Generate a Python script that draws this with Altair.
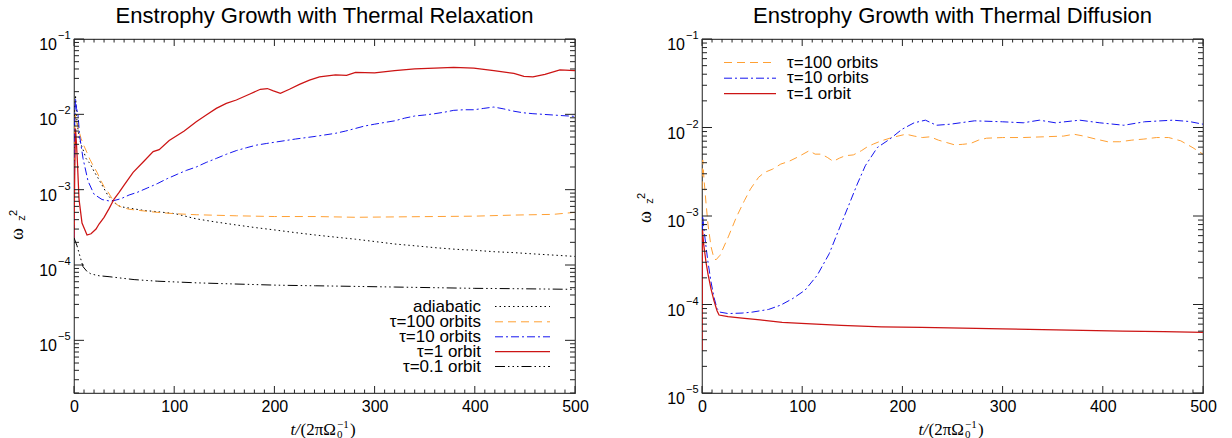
import altair as alt
import pandas as pd

FONT = "Liberation Sans"
SERIF = "Liberation Serif"

# ---------------- data: left panel (thermal relaxation) ----------------
adia_t = [0, 0.7, 1.5, 3, 5, 7, 9, 12, 15, 17, 20, 23.7, 28, 33.6, 38, 43, 48, 55, 62, 70, 83, 101,
          122, 140, 162, 180, 202, 220, 241, 260, 281, 300, 320, 340, 360, 380, 399, 420, 439, 460, 480, 500]
adia_v = [2.3e-4, 1.2e-2, 1.8e-2, 8.0e-3, 5.0e-3, 4.0e-3, 3.4e-3, 2.6e-3, 2.3e-3, 2.1e-3, 1.75e-3, 1.45e-3,
          1.15e-3, 8.5e-4, 7.3e-4, 6.2e-4, 5.9e-4, 5.7e-4, 5.5e-4, 5.3e-4, 5.1e-4, 4.8e-4,
          4.1e-4, 3.75e-4, 3.4e-4, 3.15e-4, 2.9e-4, 2.7e-4, 2.5e-4, 2.35e-4, 2.2e-4, 2.05e-4, 1.9e-4,
          1.8e-4, 1.7e-4, 1.62e-4, 1.57e-4, 1.5e-4, 1.46e-4, 1.4e-4, 1.35e-4, 1.3e-4]

t100_t = [0, 0.7, 1.5, 3, 5, 7, 10, 13, 16, 19, 23, 27, 30, 34, 38, 43, 48, 55, 65, 83, 100, 122, 162,
          200, 241, 281, 320, 360, 399, 439, 478, 500]
t100_v = [2.3e-4, 6e-3, 1.0e-2, 7.5e-3, 6.0e-3, 4.8e-3, 3.8e-3, 3.1e-3, 2.5e-3, 2.1e-3, 1.7e-3, 1.3e-3,
          1.1e-3, 9.3e-4, 7.6e-4, 6.3e-4, 5.8e-4, 5.5e-4, 5.3e-4, 5.0e-4, 4.8e-4, 4.65e-4, 4.5e-4,
          4.4e-4, 4.4e-4, 4.3e-4, 4.35e-4, 4.4e-4, 4.45e-4, 4.6e-4, 4.7e-4, 5.0e-4]

t10_t = [0, 0.7, 1.5, 2.5, 4, 5.6, 9, 14, 20, 28, 37, 47, 55, 63, 73, 83, 93, 103, 112, 122, 132, 142,
         152, 162, 172, 182, 192, 202, 221, 241, 261, 271, 281, 290, 300, 310, 320, 330, 340, 350, 360,
         370, 379, 389, 399, 409, 419, 429, 439, 448, 458, 468, 478, 488, 500]
t10_v = [2.3e-4, 8e-3, 1.6e-2, 1.2e-2, 1.0e-2, 5.2e-3, 2.6e-3, 1.3e-3, 8.7e-4, 7.4e-4, 7.0e-4, 7.6e-4,
         8.5e-4, 9.2e-4, 1.05e-3, 1.2e-3, 1.4e-3, 1.6e-3, 1.8e-3, 2.0e-3, 2.3e-3, 2.6e-3, 2.95e-3,
         3.3e-3, 3.6e-3, 3.9e-3, 4.1e-3, 4.3e-3, 4.7e-3, 5.1e-3, 5.6e-3, 6.0e-3, 6.5e-3, 7.0e-3, 7.4e-3,
         7.8e-3, 8.2e-3, 8.9e-3, 9.5e-3, 9.8e-3, 1.02e-2, 1.07e-2, 1.13e-2, 1.15e-2, 1.15e-2, 1.2e-2,
         1.25e-2, 1.18e-2, 1.1e-2, 1.05e-2, 1.02e-2, 1.0e-2, 9.8e-3, 9.6e-3, 9.4e-3]

t1_t = [0, 0.7, 1.5, 2.5, 3.3, 5, 8, 13, 17, 22, 25, 30, 35, 40, 45, 50, 59, 70, 79, 85, 95, 110, 122,
        132, 142, 152, 162, 175, 186, 193, 199, 206, 215, 225, 235, 245, 261, 272, 281, 300, 320, 340,
        360, 379, 399, 419, 439, 449, 458, 470, 485, 500]
t1_v = [2.3e-4, 1.5e-3, 6.5e-3, 4.0e-3, 2.5e-3, 7.5e-4, 3.6e-4, 2.5e-4, 2.6e-4, 3.0e-4, 3.5e-4, 4.3e-4,
        5.6e-4, 7.5e-4, 9.2e-4, 1.15e-3, 1.7e-3, 2.4e-3, 3.2e-3, 3.4e-3, 4.5e-3, 6.0e-3, 8.0e-3,
        9.8e-3, 1.2e-2, 1.4e-2, 1.55e-2, 1.85e-2, 2.15e-2, 2.2e-2, 2.05e-2, 1.9e-2, 2.15e-2, 2.5e-2,
        2.85e-2, 3.15e-2, 3.35e-2, 3.3e-2, 3.6e-2, 3.55e-2, 3.8e-2, 4.0e-2, 4.1e-2, 4.2e-2, 4.1e-2,
        3.8e-2, 3.5e-2, 3.2e-2, 3.15e-2, 3.4e-2, 3.9e-2, 3.8e-2]

t01_t = [0, 3, 6, 9, 13, 17, 25, 35, 43, 60, 83, 122, 160, 202, 241, 281, 320, 360, 400, 439, 470, 500]
t01_v = [2.3e-4, 1.8e-4, 1.3e-4, 9.5e-5, 8.2e-5, 7.6e-5, 7.2e-5, 7.0e-5, 6.8e-5, 6.4e-5, 6.1e-5, 5.8e-5,
         5.6e-5, 5.4e-5, 5.3e-5, 5.2e-5, 5.1e-5, 5.0e-5, 4.9e-5, 4.85e-5, 4.8e-5, 4.75e-5]

# ---------------- data: right panel (thermal diffusion) ----------------
d100_t = [0, 0.7, 2, 4, 6, 9, 12, 14, 18, 26.2, 34.3, 42.3, 48.4, 56.5, 62.5, 70.6, 78.6, 86.7, 94.8,
          100.8, 106.9, 112.9, 119, 125, 131, 137, 143, 151, 159, 165, 171, 179, 187.5, 195.6, 203.6,
          211.7, 219.8, 227.8, 235.9, 244, 252, 260, 268, 276, 284, 300, 320.6, 340.7, 361, 371, 381,
          393, 405, 417, 429, 441, 453.6, 465.7, 477.8, 490, 500]
d100_v = [2.0e-3, 4.3e-3, 2.6e-3, 1.4e-3, 8e-4, 4.5e-4, 3.3e-4, 3.2e-4, 3.6e-4, 5.8e-4, 9.7e-4, 1.49e-3,
          2.02e-3, 2.74e-3, 3.11e-3, 3.39e-3, 3.86e-3, 4.14e-3, 4.59e-3, 5.0e-3, 5.46e-3, 5.0e-3,
          5.0e-3, 4.6e-3, 4.14e-3, 4.5e-3, 4.8e-3, 4.9e-3, 5.46e-3, 6.05e-3, 6.5e-3, 7.07e-3, 7.57e-3,
          8.0e-3, 8.4e-3, 8.0e-3, 7.7e-3, 7.85e-3, 7.2e-3, 6.77e-3, 6.37e-3, 6.45e-3, 6.6e-3, 7.2e-3,
          7.57e-3, 7.7e-3, 7.7e-3, 7.85e-3, 8.0e-3, 8.4e-3, 8.0e-3, 7.4e-3, 6.9e-3, 6.9e-3, 7.2e-3,
          7.4e-3, 7.7e-3, 7.7e-3, 7.07e-3, 5.9e-3, 5.0e-3]

d10_t = [0, 0.7, 2, 4, 6, 9, 12, 15, 18, 26, 40, 50, 66.5, 78.6, 90.7, 102.8, 115, 127, 139, 147, 155,
         163, 175, 187.5, 199.6, 211.7, 223, 234, 248, 272, 300, 320.6, 336.7, 352.8, 377, 397, 421,
         441.5, 469.8, 486, 500]
d10_v = [2.0e-4, 1.0e-3, 7e-4, 4.5e-4, 3.0e-4, 1.8e-4, 1.2e-4, 9e-5, 8.2e-5, 7.9e-5, 8.0e-5, 8.2e-5,
         8.8e-5, 9.85e-5, 1.17e-4, 1.45e-4, 2.14e-4, 3.76e-4, 8.2e-4, 1.37e-3, 2.3e-3, 3.7e-3, 5.94e-3,
         7.4e-3, 9.55e-3, 1.13e-2, 1.21e-2, 1.06e-2, 1.09e-2, 1.19e-2, 1.16e-2, 1.13e-2, 1.21e-2,
         1.13e-2, 1.21e-2, 1.13e-2, 1.06e-2, 1.16e-2, 1.21e-2, 1.17e-2, 1.09e-2]

d1_t = [0, 0.5, 1.5, 4, 6, 9, 12, 15, 17, 26, 40, 58, 80, 99, 139, 179, 219, 260, 300, 340, 380, 420,
        461, 500]
d1_v = [3.0e-5, 7e-4, 5e-4, 3e-4, 2.2e-4, 1.5e-4, 1.1e-4, 8.5e-5, 7.6e-5, 7.3e-5, 7.0e-5, 6.7e-5,
        6.3e-5, 6.1e-5, 5.8e-5, 5.6e-5, 5.5e-5, 5.4e-5, 5.3e-5, 5.2e-5, 5.1e-5, 5.0e-5, 4.95e-5,
        4.85e-5]

# ---------------- axis ticks / labels ----------------
x_major = [0, 100, 200, 300, 400, 500]
x_minor = [t for t in range(0, 501, 10) if t % 100]
left_y_major = [1e-5, 1e-4, 1e-3, 1e-2, 1e-1]
left_y_exp = ["\u22125", "\u22124", "\u22123", "\u22122", "\u22121"]
right_y_major = [1e-5, 1e-4, 1e-3, 1e-2, 1e-1]
right_y_exp = ["\u22125", "\u22124", "\u22123", "\u22122", "\u22121"]
left_y_minor = [m * 10.0 ** e for e in range(-6, -1) for m in range(2, 10) if m * 10.0 ** e >= 2e-6]
right_y_minor = [m * 10.0 ** e for e in range(-5, -1) for m in range(2, 10)]

left_labels = ["adiabatic", "\u03c4=100 orbits", "\u03c4=10 orbits", "\u03c4=1 orbit", "\u03c4=0.1 orbit"]
right_labels = ["\u03c4=100 orbits", "\u03c4=10 orbits", "\u03c4=1 orbit"]

# ---------------- styles ----------------
BLACK = "#000000"
ORANGE = "#FFA033"
BLUE = "#1414F0"
RED = "#CC1414"
STY = {
    "adiabatic": (BLACK, [1.5, 3], 1.0),
    "t100": (ORANGE, [8, 5], 1.0),
    "t10": (BLUE, [8, 3, 2, 3], 1.0),
    "t1": (RED, None, 1.25),
    "t01": (BLACK, [10, 3, 1.5, 3, 1.5, 3, 1.5, 3], 1.0),
}

W, H = 501, 354


def panel(title, series, ydomain, ymaj, yexp, ymin, legend, legend_rows_y, omega_y):
    xs = alt.Scale(domain=[0, 500], nice=False, zero=False)
    ys = alt.Scale(type="log", domain=ydomain, nice=False)
    xaxis = alt.Axis(values=x_major, labelFontSize=16, labelFont=FONT, labelColor="black",
                     ticks=False, tickSize=0, domain=False, grid=False, title=None,
                     labelPadding=5, labelFlush=False, format="d")
    X = alt.X("t:Q", scale=xs, axis=xaxis)
    Y = alt.Y("v:Q", scale=ys, axis=None)
    layers = []
    for key, t, v in series:
        color, dash, sw = STY[key]
        kw = dict(color=color, strokeWidth=sw, clip=True)
        if dash:
            kw["strokeDash"] = dash
        df = pd.DataFrame({"t": t, "v": v})
        layers.append(alt.Chart(df).mark_line(**kw).encode(x=X, y=Y))

    tick_col = "#222222"
    dxmaj = pd.DataFrame({"t": x_major})
    dxmin = pd.DataFrame({"t": x_minor})
    dymaj = pd.DataFrame({"v": ymaj, "e": yexp})
    dymin = pd.DataFrame({"v": ymin})
    for d, L in ((dxmaj, 7), (dxmin, 3.5)):
        layers.append(alt.Chart(d).mark_rule(color=tick_col, strokeWidth=1).encode(
            x=X, y=alt.value(H), y2=alt.value(H - L)))
        layers.append(alt.Chart(d).mark_rule(color=tick_col, strokeWidth=1).encode(
            x=X, y=alt.value(0), y2=alt.value(L)))
    for d, L in ((dymaj, 10), (dymin, 5)):
        layers.append(alt.Chart(d).mark_rule(color=tick_col, strokeWidth=1).encode(
            y=Y, x=alt.value(0), x2=alt.value(L)))
        layers.append(alt.Chart(d).mark_rule(color=tick_col, strokeWidth=1).encode(
            y=Y, x=alt.value(W), x2=alt.value(W - L)))
    # y tick labels 10^n
    layers.append(alt.Chart(dymaj).mark_text(align="right", baseline="middle", dy=6, fontSize=16,
                                             font=FONT, color="black").encode(
        y=Y, x=alt.value(-17), text=alt.value("10")))
    layers.append(alt.Chart(dymaj).mark_text(align="left", baseline="middle", dy=-3, fontSize=11,
                                             font=FONT, color="black").encode(
        y=Y, x=alt.value(-16), text="e:N"))
    # y title omega_z^2
    one = pd.DataFrame({"a": [0]})
    layers.append(alt.Chart(one).mark_text(angle=270, align="center", baseline="middle", fontSize=18,
                                           font=SERIF, color="black").encode(
        x=alt.value(-56), y=alt.value(omega_y), text=alt.value("\u03c9")))
    layers.append(alt.Chart(one).mark_text(angle=270, align="center", baseline="middle", fontSize=11,
                                           font=FONT, color="black").encode(
        x=alt.value(-60), y=alt.value(omega_y - 21), text=alt.value("2")))
    layers.append(alt.Chart(one).mark_text(angle=270, align="center", baseline="middle", fontSize=11,
                                           font=FONT, color="black").encode(
        x=alt.value(-52), y=alt.value(omega_y - 16), text=alt.value("z")))
    # x title t/(2 pi Omega_0^-1)
    b = W / 2 + 11.5
    ty = H + 37
    layers.append(alt.Chart(one).mark_text(align="right", baseline="middle", fontSize=17,
                                           font=SERIF, color="black").encode(
        x=alt.value(b), y=alt.value(ty), text=alt.value("(2\u03c0\u03a9")))
    layers.append(alt.Chart(one).mark_text(align="right", baseline="middle", fontSize=17,
                                           font=SERIF, fontStyle="italic", color="black").encode(
        x=alt.value(b - 36), y=alt.value(ty), text=alt.value("t/")))
    layers.append(alt.Chart(one).mark_text(align="left", baseline="middle", fontSize=11,
                                           font=SERIF, color="black").encode(
        x=alt.value(b + 1), y=alt.value(ty - 5), text=alt.value("\u22121")))
    layers.append(alt.Chart(one).mark_text(align="left", baseline="middle", fontSize=11,
                                           font=SERIF, color="black").encode(
        x=alt.value(b + 1), y=alt.value(ty + 5), text=alt.value("0")))
    layers.append(alt.Chart(one).mark_text(align="left", baseline="middle", fontSize=17,
                                           font=SERIF, color="black").encode(
        x=alt.value(b + 14), y=alt.value(ty), text=alt.value(")")))
    # legend
    rows, lx1, lx2, tx, talign = legend
    for (key, label), yy in zip(rows, legend_rows_y):
        color, dash, sw = STY[key]
        kw = dict(color=color, strokeWidth=sw)
        if dash:
            kw["strokeDash"] = dash
        dl = pd.DataFrame({"label": [label]})
        layers.append(alt.Chart(dl).mark_rule(**kw).encode(
            x=alt.value(lx1), x2=alt.value(lx2), y=alt.value(yy)))
        layers.append(alt.Chart(dl).mark_text(align=talign, baseline="middle", fontSize=17,
                                              font=FONT, color="black").encode(
            x=alt.value(tx), y=alt.value(yy), text="label:N"))

    return alt.layer(*layers).properties(
        width=W, height=H,
        title=alt.TitleParams(title, fontSize=22, font=FONT, fontWeight="normal", anchor="middle",
                              color="black", offset=2))


left = panel(
    "Enstrophy Growth with Thermal Relaxation",
    [("adiabatic", adia_t, adia_v), ("t100", t100_t, t100_v), ("t10", t10_t, t10_v),
     ("t01", t01_t, t01_v), ("t1", t1_t, t1_v)],
    [2e-6, 0.1], left_y_major, left_y_exp, left_y_minor,
    (list(zip(["adiabatic", "t100", "t10", "t1", "t01"], left_labels)), 421, 476, 407, "right"),
    [267.5, 282.8, 297.8, 312.5, 327.5],
    195,
)
right = panel(
    "Enstrophy Growth with Thermal Diffusion",
    [("t100", d100_t, d100_v), ("t10", d10_t, d10_v), ("t1", d1_t, d1_v)],
    [1e-5, 0.1], right_y_major, right_y_exp, right_y_minor,
    (list(zip(["t100", "t10", "t1"], right_labels)), 22, 74, 85, "left"),
    [23.5, 39.2, 54.5],
    178,
)

chart = alt.hconcat(left, right, spacing=127, bounds="flush").properties(
    padding={"left": 7, "top": 4, "right": 5, "bottom": 5}
).configure_view(stroke="#444444", strokeWidth=1.2)

chart.save("out.html", embed_options={"renderer": "svg", "actions": False})
